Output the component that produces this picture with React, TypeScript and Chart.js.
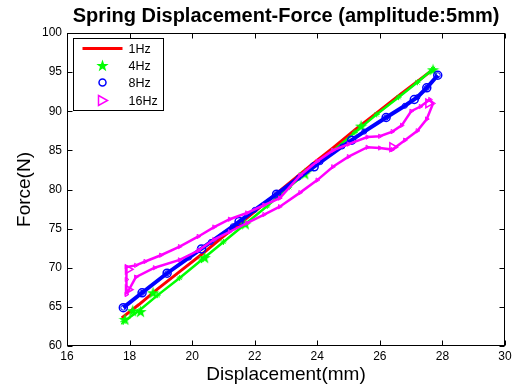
import React, { useEffect, useRef } from 'react';
import { Chart, registerables } from 'chart.js';

Chart.register(...registerables);

const chartTitle = 'Spring Displacement-Force (amplitude:5mm)';
const xTitle = 'Displacement(mm)';
const yTitle = 'Force(N)';
const seriesNames = ['1Hz', '4Hz', '8Hz', '16Hz'];
const xTicks = [16, 18, 20, 22, 24, 26, 28, 30];
const yTicks = [60, 65, 70, 75, 80, 85, 90, 95, 100];

// 1Hz
const redX = [17.75, 18.3, 18.9, 19.6, 20.3, 21.0, 21.7, 22.4, 23.1, 23.8, 24.5, 25.2, 25.9, 26.6, 27.2, 27.65];
const redY = [63.6, 65.3, 67.3, 69.5, 71.7, 74.0, 76.2, 78.5, 80.8, 83.1, 85.3, 87.6, 89.8, 92.0, 93.8, 95.2];

// 4Hz
const greenX = [17.8, 18.3, 18.9, 19.6, 20.3, 21.0, 21.7, 22.4, 23.1, 23.8, 24.5, 25.2, 25.9, 26.6, 27.2, 27.7];
const greenY = [63.1, 64.5, 66.5, 68.7, 71.0, 73.3, 75.6, 77.9, 80.3, 82.6, 84.9, 87.3, 89.6, 91.8, 93.7, 95.4];
const greenMarkX = [17.85, 18.1, 18.35, 18.75, 20.4, 21.7, 23.6, 25.4, 27.7];
const greenMarkY = [63.4, 64.5, 64.4, 66.8, 71.3, 75.6, 82.0, 88.1, 95.3];

// 8Hz
const blueX = [17.8, 18.4, 19.2, 19.9, 20.6, 21.3, 22.0, 22.7, 23.4, 24.1, 24.8, 25.5, 26.2, 26.8, 27.2, 27.5, 27.85];
const blueY = [64.9, 66.8, 69.3, 71.3, 73.3, 75.3, 77.4, 79.4, 81.5, 83.5, 85.5, 87.4, 89.2, 90.7, 91.8, 93.0, 94.6];
const blueMarkX = [17.8, 18.4, 19.2, 20.3, 21.5, 22.7, 23.9, 25.1, 26.2, 27.1, 27.5, 27.85];
const blueMarkY = [64.9, 66.8, 69.3, 72.4, 75.9, 79.4, 82.9, 86.3, 89.2, 91.5, 93.0, 94.6];

// 16Hz (hysteresis loop)
const magX = [17.9, 18.2, 18.8, 19.6, 20.2, 20.7, 21.2, 21.75, 22.3, 22.8, 23.45, 24.0, 24.5, 25.0, 25.6, 26.0, 26.4, 26.8, 27.2, 27.5, 27.7,
  27.6, 27.3, 27.0, 26.7, 26.4, 26.0, 25.6, 25.0, 24.5, 24.0, 23.45, 22.8, 22.3, 21.75, 21.2, 20.7, 20.2, 19.6, 19.0, 18.5, 18.2, 17.9, 17.9, 17.9];
const magY = [66.6, 68.8, 70.0, 71.0, 72.2, 73.6, 74.6, 75.7, 76.8, 77.8, 79.6, 81.2, 82.9, 84.2, 85.4, 85.3, 85.1, 86.3, 87.5, 89.0, 91.0,
  91.5, 90.6, 90.0, 88.2, 87.4, 86.8, 86.7, 85.8, 85.0, 83.6, 81.8, 78.9, 78.0, 77.0, 76.2, 75.2, 74.0, 72.7, 71.6, 70.8, 70.3, 70.1, 68.5, 66.6];
const magMarkX = [17.95, 17.95, 26.4, 27.55];
const magMarkY = [69.8, 67.2, 85.4, 91.0];

const FONT = 'Liberation Sans, Arial, Helvetica, sans-serif';
const RED = '#ff0000';
const GREEN = '#00ff00';
const BLUE = '#0000ff';
const MAGENTA = '#ff00ff';

const pts = (xs: number[], ys: number[]) => xs.map((x, i) => ({ x, y: ys[i] }));

function makeStar(size: number, color: string): HTMLCanvasElement {
  const c = document.createElement('canvas');
  c.width = size;
  c.height = size;
  const ctx = c.getContext('2d')!;
  const cx = size / 2;
  const cy = size / 2 + 0.5;
  const R = size / 2;
  const r = R * 0.4;
  ctx.beginPath();
  for (let i = 0; i < 10; i++) {
    const a = -Math.PI / 2 + (i * Math.PI) / 5;
    const rad = i % 2 === 0 ? R : r;
    ctx.lineTo(cx + rad * Math.cos(a), cy + rad * Math.sin(a));
  }
  ctx.closePath();
  ctx.fillStyle = color;
  ctx.fill();
  return c;
}

export default function App() {
  const ref = useRef<HTMLCanvasElement>(null);

  useEffect(() => {
    if (!ref.current) return;
    const bigStar = makeStar(13, GREEN);

    const framePlugin = {
      id: 'frameAndLegend',
      afterDraw(chart: any) {
        const { ctx, chartArea } = chart;
        const L = Math.round(chartArea.left) + 0.5;
        const R = Math.round(chartArea.right) - 0.5;
        const T = Math.round(chartArea.top) + 0.5;
        const B = Math.round(chartArea.bottom) - 0.5;
        ctx.save();
        ctx.strokeStyle = '#000';
        ctx.lineWidth = 1;
        ctx.strokeRect(L, T, R - L, B - T);
        const tl = 5;
        const xs = chart.scales.x;
        const ys = chart.scales.y;
        ctx.beginPath();
        xTicks.forEach((v) => {
          const px = Math.round(xs.getPixelForValue(v)) + 0.5;
          ctx.moveTo(px, B);
          ctx.lineTo(px, B - tl);
          ctx.moveTo(px, T);
          ctx.lineTo(px, T + tl);
        });
        yTicks.forEach((v) => {
          const py = Math.round(ys.getPixelForValue(v)) + 0.5;
          ctx.moveTo(L, py);
          ctx.lineTo(L + tl, py);
          ctx.moveTo(R, py);
          ctx.lineTo(R - tl, py);
        });
        ctx.stroke();

        // legend
        const lx = L + 6;
        const ly = T + 5;
        const lw = 90;
        const lh = 72;
        ctx.fillStyle = '#fff';
        ctx.fillRect(lx, ly, lw, lh);
        ctx.strokeStyle = '#000';
        ctx.strokeRect(lx, ly, lw, lh);
        const rows = [15, 32, 49, 67];
        const mx = lx + 29;
        ctx.font = `12.5px ${FONT}`;
        ctx.textBaseline = 'middle';
        ctx.textAlign = 'left';
        rows.forEach((dy, i) => {
          const y = T + dy;
          if (i === 0) {
            ctx.strokeStyle = RED;
            ctx.lineWidth = 3;
            ctx.beginPath();
            ctx.moveTo(lx + 9, y);
            ctx.lineTo(lx + 49, y);
            ctx.stroke();
          } else if (i === 1) {
            ctx.drawImage(bigStar, mx - 6.5, y - 6.5);
          } else if (i === 2) {
            ctx.strokeStyle = BLUE;
            ctx.lineWidth = 1.5;
            ctx.beginPath();
            ctx.arc(mx, y, 3.5, 0, Math.PI * 2);
            ctx.stroke();
          } else {
            ctx.strokeStyle = MAGENTA;
            ctx.lineWidth = 1.5;
            ctx.beginPath();
            ctx.moveTo(mx - 4, y - 5);
            ctx.lineTo(mx + 5, y);
            ctx.lineTo(mx - 4, y + 5);
            ctx.closePath();
            ctx.stroke();
          }
          ctx.fillStyle = '#000';
          ctx.fillText(seriesNames[i], lx + 55, y + 1);
        });
        ctx.restore();
      },
    };

    const chart = new Chart(ref.current, {
      type: 'scatter',
      data: {
        datasets: [
          {
            label: seriesNames[3] + ' markers',
            data: pts(magMarkX, magMarkY),
            showLine: false,
            pointStyle: 'triangle',
            rotation: 90,
            pointRadius: 5,
            borderColor: MAGENTA,
            backgroundColor: 'rgba(0,0,0,0)',
            borderWidth: 1.5,
          },
          {
            label: seriesNames[3],
            data: pts(magX, magY),
            showLine: true,
            borderColor: MAGENTA,
            borderWidth: 2.5,
            pointStyle: 'triangle',
            rotation: 90,
            pointRadius: 2.5,
            pointBorderColor: MAGENTA,
            pointBackgroundColor: 'rgba(0,0,0,0)',
            pointBorderWidth: 1,
            tension: 0,
          },
          {
            label: seriesNames[2] + ' markers',
            data: pts(blueMarkX, blueMarkY),
            showLine: false,
            pointStyle: 'circle',
            pointRadius: 4,
            borderColor: BLUE,
            backgroundColor: 'rgba(0,0,0,0)',
            borderWidth: 1.5,
          },
          {
            label: seriesNames[2],
            data: pts(blueX, blueY),
            showLine: true,
            borderColor: BLUE,
            borderWidth: 4,
            pointStyle: 'circle',
            pointRadius: 2.5,
            pointBorderColor: BLUE,
            pointBackgroundColor: 'rgba(0,0,0,0)',
            pointBorderWidth: 1,
          },
          {
            label: seriesNames[1] + ' markers',
            data: pts(greenMarkX, greenMarkY),
            showLine: false,
            pointStyle: bigStar,
            pointRadius: 6,
            borderColor: GREEN,
            backgroundColor: GREEN,
          },
          {
            label: seriesNames[1],
            data: pts(greenX, greenY),
            showLine: true,
            borderColor: GREEN,
            borderWidth: 2.5,
            pointStyle: 'star',
            pointRadius: 3,
            pointBorderColor: GREEN,
            pointBorderWidth: 1,
          },
          {
            label: seriesNames[0],
            data: pts(redX, redY),
            showLine: true,
            borderColor: RED,
            borderWidth: 3,
            pointRadius: 0,
          },
        ],
      },
      options: {
        responsive: false,
        animation: false,
        events: [],
        layout: { padding: { top: 0, right: 12, left: 0, bottom: 0 } },
        plugins: {
          legend: { display: false },
          tooltip: { enabled: false },
          title: {
            display: true,
            text: chartTitle,
            fullSize: false,
            color: '#000',
            font: { family: FONT, size: 20, weight: 'bold' },
            padding: { top: 4, bottom: 5 },
          },
        },
        scales: {
          x: {
            type: 'linear',
            min: 16,
            max: 30,
            afterBuildTicks: (s: any) => {
              s.ticks = xTicks.map((v) => ({ value: v }));
            },
            afterFit: (s: any) => {
              s.height = 42;
            },
            grid: { display: false, drawTicks: false },
            border: { display: false },
            ticks: { color: '#000', font: { family: FONT, size: 12 }, padding: 3, maxRotation: 0, autoSkip: false },
            title: { display: true, text: xTitle, color: '#000', font: { family: FONT, size: 19 }, padding: { top: 0, bottom: 2 } },
          },
          y: {
            type: 'linear',
            min: 60,
            max: 100,
            afterBuildTicks: (s: any) => {
              s.ticks = yTicks.map((v) => ({ value: v }));
            },
            afterFit: (s: any) => {
              s.width = 67;
            },
            grid: { display: false, drawTicks: false },
            border: { display: false },
            ticks: { color: '#000', font: { family: FONT, size: 12 }, padding: 5, autoSkip: false },
            title: { display: true, text: yTitle, color: '#000', font: { family: FONT, size: 19 }, padding: { top: 13, bottom: 0 } },
          },
        },
      } as any,
      plugins: [framePlugin],
    });
    return () => chart.destroy();
  }, []);

  return (
    <div style={{ position: 'fixed', left: 0, top: 0, width: 517, height: 388, background: '#fff' }}>
      <canvas ref={ref} width={517} height={388} style={{ display: 'block', width: 517, height: 388 }} />
    </div>
  );
}
